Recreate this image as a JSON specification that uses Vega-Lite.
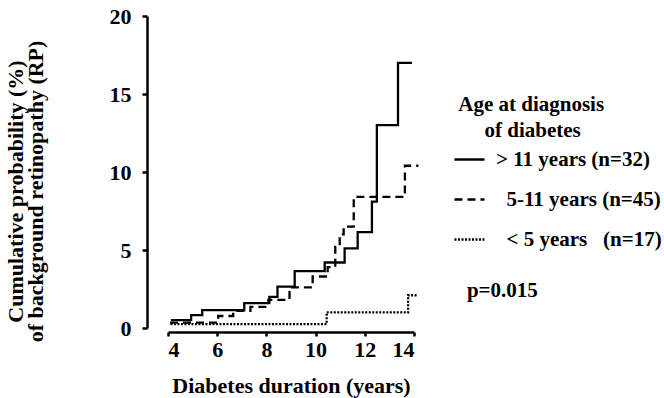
{
  "$schema": "https://vega.github.io/schema/vega-lite/v6.json",
  "width": 246,
  "height": 312,
  "autosize": {"type": "none"},
  "padding": {"left": 168, "top": 16, "right": 250, "bottom": 70},
  "config": {
    "view": {"stroke": null},
    "font": "Liberation Serif, Times New Roman, serif",
    "axis": {
      "domainColor": "black",
      "domainWidth": 2.5,
      "tickColor": "black",
      "tickWidth": 2.5,
      "labelColor": "black",
      "labelFont": "Liberation Serif, Times New Roman, serif",
      "labelFontWeight": "bold",
      "labelFontSize": 22,
      "titleColor": "black",
      "titleFont": "Liberation Serif, Times New Roman, serif",
      "titleFontWeight": "bold",
      "titleFontSize": 22,
      "grid": false
    },
    "legend": {
      "orient": "none",
      "legendX": 285,
      "legendY": 78,
      "padding": 0,
      "titleFont": "Liberation Serif, Times New Roman, serif",
      "titleFontWeight": "bold",
      "titleFontSize": 21,
      "titleColor": "black",
      "titleLineHeight": 26,
      "titleAlign": "left",
      "titlePadding": 2,
      "labelFont": "Liberation Serif, Times New Roman, serif",
      "labelFontWeight": "bold",
      "labelFontSize": 21,
      "labelColor": "black",
      "labelOffset": 10,
      "labelLimit": 400,
      "symbolType": "stroke",
      "symbolSize": 900,
      "symbolStrokeWidth": 2.3,
      "symbolStrokeColor": "black",
      "rowPadding": 13
    }
  },
  "layer": [
    {
      "data": {
        "values": [
          {"group": "> 11 years (n=32)", "x": 4.12, "y": 0.5},
          {"group": "> 11 years (n=32)", "x": 4.94, "y": 0.83},
          {"group": "> 11 years (n=32)", "x": 5.39, "y": 1.15},
          {"group": "> 11 years (n=32)", "x": 7.1, "y": 1.6},
          {"group": "> 11 years (n=32)", "x": 8.12, "y": 2.0},
          {"group": "> 11 years (n=32)", "x": 8.45, "y": 2.65},
          {"group": "> 11 years (n=32)", "x": 9.15, "y": 3.65},
          {"group": "> 11 years (n=32)", "x": 10.37, "y": 4.2},
          {"group": "> 11 years (n=32)", "x": 11.18, "y": 5.1},
          {"group": "> 11 years (n=32)", "x": 11.71, "y": 6.15},
          {"group": "> 11 years (n=32)", "x": 12.29, "y": 8.1},
          {"group": "> 11 years (n=32)", "x": 12.49, "y": 13.0},
          {"group": "> 11 years (n=32)", "x": 13.35, "y": 17.0},
          {"group": "> 11 years (n=32)", "x": 13.92, "y": 17.0},
          {"group": "\u200b\u00a0\u00a05-11 years (n=45)", "x": 4.08, "y": 0.35},
          {"group": "\u200b\u00a0\u00a05-11 years (n=45)", "x": 6.04, "y": 0.77},
          {"group": "\u200b\u00a0\u00a05-11 years (n=45)", "x": 6.65, "y": 1.1},
          {"group": "\u200b\u00a0\u00a05-11 years (n=45)", "x": 7.35, "y": 1.35},
          {"group": "\u200b\u00a0\u00a05-11 years (n=45)", "x": 8.08, "y": 1.8},
          {"group": "\u200b\u00a0\u00a05-11 years (n=45)", "x": 8.94, "y": 2.6},
          {"group": "\u200b\u00a0\u00a05-11 years (n=45)", "x": 9.88, "y": 3.3},
          {"group": "\u200b\u00a0\u00a05-11 years (n=45)", "x": 10.49, "y": 3.9},
          {"group": "\u200b\u00a0\u00a05-11 years (n=45)", "x": 10.8, "y": 5.2},
          {"group": "\u200b\u00a0\u00a05-11 years (n=45)", "x": 10.98, "y": 6.0},
          {"group": "\u200b\u00a0\u00a05-11 years (n=45)", "x": 11.14, "y": 6.5},
          {"group": "\u200b\u00a0\u00a05-11 years (n=45)", "x": 11.55, "y": 8.4},
          {"group": "\u200b\u00a0\u00a05-11 years (n=45)", "x": 13.63, "y": 10.4},
          {"group": "\u200b\u00a0\u00a05-11 years (n=45)", "x": 14.18, "y": 10.4},
          {"group": "\u200b\u00a0\u00a0< 5 years\u00a0\u00a0\u00a0(n=17)", "x": 4.1, "y": 0.25},
          {"group": "\u200b\u00a0\u00a0< 5 years\u00a0\u00a0\u00a0(n=17)", "x": 10.45, "y": 1.0},
          {"group": "\u200b\u00a0\u00a0< 5 years\u00a0\u00a0\u00a0(n=17)", "x": 13.76, "y": 2.1},
          {"group": "\u200b\u00a0\u00a0< 5 years\u00a0\u00a0\u00a0(n=17)", "x": 14.16, "y": 2.1}
        ]
      },
      "mark": {"type": "line", "interpolate": "step-after", "strokeWidth": 2.3, "color": "black"},
      "encoding": {
        "x": {
          "field": "x",
          "type": "quantitative",
          "scale": {"domain": [4, 14], "nice": false, "zero": false},
          "axis": {
            "values": [4, 6, 8, 10, 12, 14],
            "offset": 4,
            "tickSize": 4,
            "labelPadding": 3,
            "title": "Diabetes duration (years)",
            "titlePadding": 15
          }
        },
        "y": {
          "field": "y",
          "type": "quantitative",
          "scale": {"domain": [0, 20], "nice": false},
          "axis": {
            "values": [0, 5, 10, 15, 20],
            "offset": 21,
            "tickSize": 5,
            "labelPadding": 11,
            "title": ["Cumulative probability (%)", "of background retinopathy (RP)"],
            "titleLineHeight": 20,
            "titlePadding": 62,
            "titleY": 175
          }
        },
        "strokeDash": {
          "field": "group",
          "type": "nominal",
          "scale": {
            "domain": ["> 11 years (n=32)", "\u200b\u00a0\u00a05-11 years (n=45)", "\u200b\u00a0\u00a0< 5 years\u00a0\u00a0\u00a0(n=17)"],
            "range": [[1, 0], [8, 5], [2, 1.5]]
          },
          "legend": {"title": ["\u200b\u00a0Age at diagnosis", "\u200b\u00a0\u00a0\u00a0\u00a0\u00a0\u00a0of diabetes"]}
        }
      }
    },
    {
      "data": {"values": [{"label": "p=0.015", "x": 16.15, "y": 2.37}]},
      "mark": {"type": "text", "align": "left", "baseline": "middle", "font": "Liberation Serif, Times New Roman, serif", "fontWeight": "bold", "fontSize": 21, "color": "black"},
      "encoding": {
        "x": {"field": "x", "type": "quantitative"},
        "y": {"field": "y", "type": "quantitative"},
        "text": {"field": "label"}
      }
    }
  ]
}
